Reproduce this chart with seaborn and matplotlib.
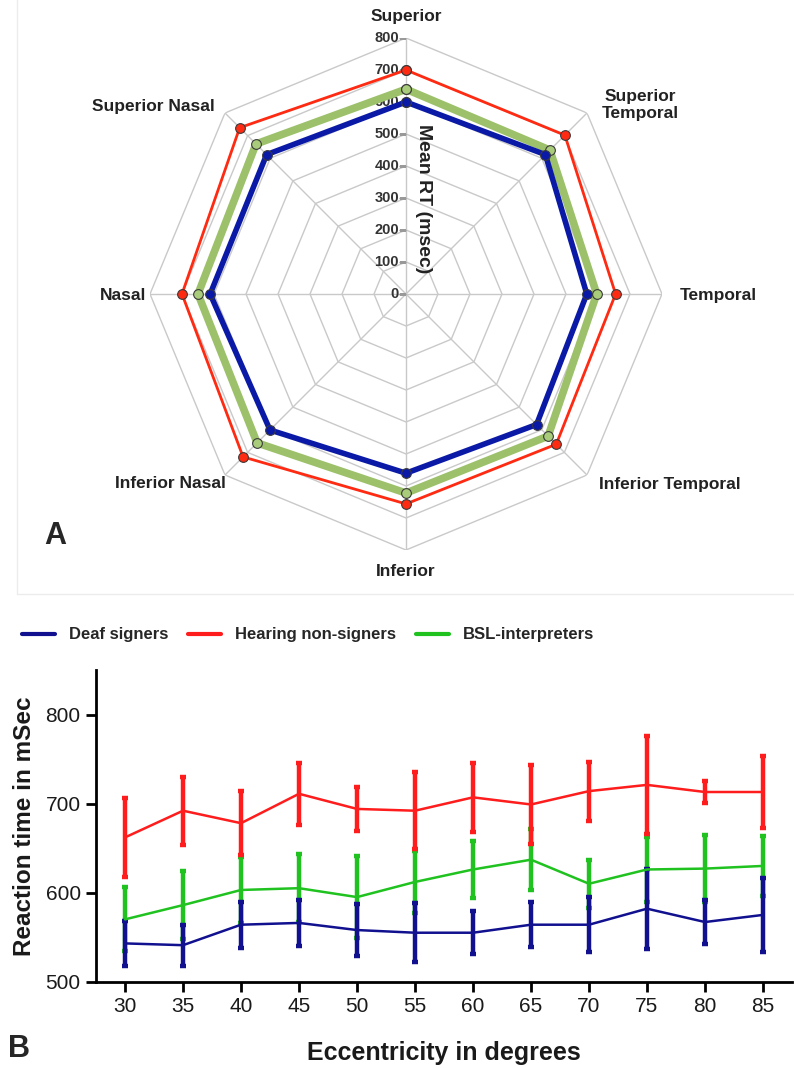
import numpy as np
import pandas as pd
import matplotlib
matplotlib.use("Agg")
import matplotlib.pyplot as plt
import seaborn as sns

# ---------------- data ----------------
directions = ["Superior", "Superior Temporal", "Temporal", "Inferior Temporal",
              "Inferior", "Inferior Nasal", "Nasal", "Superior Nasal"]
radar_deaf = [600, 616, 565, 577, 560, 601, 612, 616]
radar_hearing = [700, 702, 655, 664, 656, 720, 700, 735]
radar_bsl = [640, 636, 596, 628, 622, 658, 650, 663]
radar_ticks = [0, 100, 200, 300, 400, 500, 600, 700, 800]

eccentricity = [30, 35, 40, 45, 50, 55, 60, 65, 70, 75, 80, 85]
deaf_mean = [543, 541, 564, 566, 558, 555, 555, 564, 564, 582, 567, 575]
deaf_err = [25, 23, 26, 26, 29, 33, 24, 25, 31, 45, 25, 42]
hearing_mean = [662, 692, 678, 711, 694, 692, 707, 699, 714, 721, 713, 713]
hearing_err = [44, 38, 36, 35, 25, 43, 39, 44, 33, 55, 12, 40]
bsl_mean = [570, 586, 603, 605, 595, 612, 626, 637, 610, 626, 627, 630]
bsl_err = [36, 38, 37, 38, 46, 35, 32, 34, 27, 37, 38, 34]
y_ticks = [500, 600, 700, 800]

groups = ["Deaf signers", "Hearing non-signers", "BSL-interpreters"]

# ---------------- style ----------------
sns.set_theme(style="white")
plt.rcParams["font.family"] = ["Liberation Sans", "DejaVu Sans"]

W, H = 794, 1068
fig = plt.figure(figsize=(W / 100, H / 100), dpi=100)


def fx(px):
    return px / W


def fy(py):
    return 1 - py / H


# ---------------- panel A: radar ----------------
cx, cy, R = 406, 294, 256
axr = fig.add_axes([fx(cx - R), fy(cy + R), 2 * R / W, 2 * R / H], projection="polar")
axr.set_theta_zero_location("N")
axr.set_theta_direction(-1)
axr.set_facecolor("none")

n = len(directions)
theta = np.linspace(0, 2 * np.pi, n, endpoint=False)
theta_c = np.append(theta, theta[0])

grid_c = "#c9c9c9"
# octagonal rings
for r in radar_ticks[1:]:
    axr.plot(theta_c, [r] * (n + 1), color=grid_c, lw=1.0, zorder=1)
axr.set_xticks(theta)
axr.set_xticklabels([])
axr.xaxis.grid(True, color=grid_c, lw=1.0)
axr.set_yticks([])
axr.yaxis.grid(False)
axr.spines["polar"].set_visible(False)
axr.set_ylim(0, radar_ticks[-1])

# radial ticks and labels on the top spoke
axr.plot([0] * len(radar_ticks), radar_ticks, marker=0, linestyle="none",
         markersize=5, color="#999999", markeredgewidth=1, zorder=2)
for v in radar_ticks:
    axr.annotate(str(v), xy=(0, v), xytext=(-5, 0), textcoords="offset points",
                 ha="right", va="center", fontsize=10.5, fontweight="bold",
                 color="#333333", zorder=3)

radar_df = pd.DataFrame({
    "theta": np.tile(theta_c, 3),
    "rt": np.concatenate([np.append(radar_hearing, radar_hearing[0]),
                          np.append(radar_bsl, radar_bsl[0]),
                          np.append(radar_deaf, radar_deaf[0])]),
    "group": np.repeat(["Hearing non-signers", "BSL-interpreters", "Deaf signers"], n + 1),
})
radar_style = {
    "Hearing non-signers": dict(color="#ff2a12", lw=2.0, mfc="#ff2a12"),
    "BSL-interpreters": dict(color="#9cc16a", lw=5.5, mfc="#a9cc7a"),
    "Deaf signers": dict(color="#0b1aa6", lw=4.0, mfc="#0b1aa6"),
}
for g in ["BSL-interpreters", "Deaf signers", "Hearing non-signers"]:
    st = radar_style[g]
    sub = radar_df[radar_df["group"] == g]
    sns.lineplot(data=sub, x="theta", y="rt", sort=False, ax=axr, color=st["color"],
                 lw=st["lw"], marker="o", markersize=7, markerfacecolor=st["mfc"],
                 markeredgecolor="#3a3a3a", markeredgewidth=0.8, zorder=4,
                 estimator=None, legend=False)
axr.set_xlabel("")
axr.set_ylabel("")

fig.text(fx(424), fy(199), "Mean RT (msec)", rotation=-90, ha="center", va="center",
         fontsize=14, fontweight="bold", color="#222222")

lab_kw = dict(fontsize=12.5, fontweight="bold", color="#222222")
fig.text(fx(406), fy(17), "Superior", ha="center", va="center", **lab_kw)
fig.text(fx(640), fy(105), "Superior\nTemporal", ha="center", va="center",
         linespacing=1.2, **lab_kw)
fig.text(fx(680), fy(295), "Temporal", ha="left", va="center", **lab_kw)
fig.text(fx(670), fy(484), "Inferior Temporal", ha="center", va="center", **lab_kw)
fig.text(fx(406), fy(572), "Inferior", ha="center", va="center", **lab_kw)
fig.text(fx(170), fy(484), "Inferior Nasal", ha="center", va="center", **lab_kw)
fig.text(fx(146), fy(295), "Nasal", ha="right", va="center", **lab_kw)
fig.text(fx(153), fy(106), "Superior Nasal", ha="center", va="center", **lab_kw)

fig.text(fx(55), fy(536), "A", ha="center", va="center", fontsize=22, fontweight="bold")
fig.add_artist(plt.Line2D([fx(17), fx(17)], [fy(0), fy(594)], color="#ececec", lw=1))
fig.add_artist(plt.Line2D([fx(17), fx(794)], [fy(594), fy(594)], color="#ececec", lw=1))

# ---------------- panel B: line chart with error bars ----------------
axb = fig.add_axes([fx(96), fy(981.7), (792 - 96) / W, (981.7 - 670) / H])
colors_b = {"Deaf signers": "#111190", "Hearing non-signers": "#ff1c1c",
            "BSL-interpreters": "#1fc21f"}
series = {
    "Deaf signers": (deaf_mean, deaf_err),
    "Hearing non-signers": (hearing_mean, hearing_err),
    "BSL-interpreters": (bsl_mean, bsl_err),
}
long_df = pd.DataFrame({
    "ecc": eccentricity * 3,
    "rt": deaf_mean + hearing_mean + bsl_mean,
    "group": np.repeat(groups, len(eccentricity)),
})
for g in ["BSL-interpreters", "Hearing non-signers", "Deaf signers"]:
    m, e = series[g]
    axb.errorbar(eccentricity, m, yerr=e, fmt="none", ecolor=colors_b[g],
                 elinewidth=3.2, capsize=2, capthick=3.2, zorder=2)
    sns.lineplot(data=long_df[long_df["group"] == g], x="ecc", y="rt", ax=axb,
                 color=colors_b[g], lw=1.8, zorder=3, estimator=None, legend=False)

axb.set_xlim(27.5, 87.5)
axb.set_ylim(500, 850)
axb.set_xticks(eccentricity)
axb.set_yticks(y_ticks)
axb.tick_params(axis="both", which="major", direction="out", length=7, width=2,
                color="black", labelsize=15, pad=4, labelcolor="#1a1a1a",
                left=True, bottom=True)
for s in ["top", "right"]:
    axb.spines[s].set_visible(False)
for s in ["left", "bottom"]:
    axb.spines[s].set_color("black")
    axb.spines[s].set_linewidth(2)
axb.set_facecolor("white")
axb.set_xlabel("Eccentricity in degrees", fontsize=18, fontweight="bold", color="#1a1a1a")
axb.set_ylabel("Reaction time in mSec", fontsize=17.5, fontweight="bold", color="#1a1a1a")
axb.xaxis.set_label_coords((444 - 96) / 696, -(1041 - 981.7) / 311.7)
axb.yaxis.set_label_coords((36 - 96) / 696, 0.5)

handles = [plt.Line2D([], [], color=colors_b[g], lw=3) for g in groups]
fig.legend(handles, groups, loc="center left", bbox_to_anchor=(fx(22), fy(635)),
           ncol=3, frameon=False, handlelength=2.0, handletextpad=0.8,
           columnspacing=1.2, borderaxespad=0, borderpad=0,
           prop={"weight": "bold", "size": 12})

fig.text(fx(8), fy(1049), "B", ha="left", va="center", fontsize=22, fontweight="bold")

fig.savefig("out.png", dpi=100, facecolor="white")
